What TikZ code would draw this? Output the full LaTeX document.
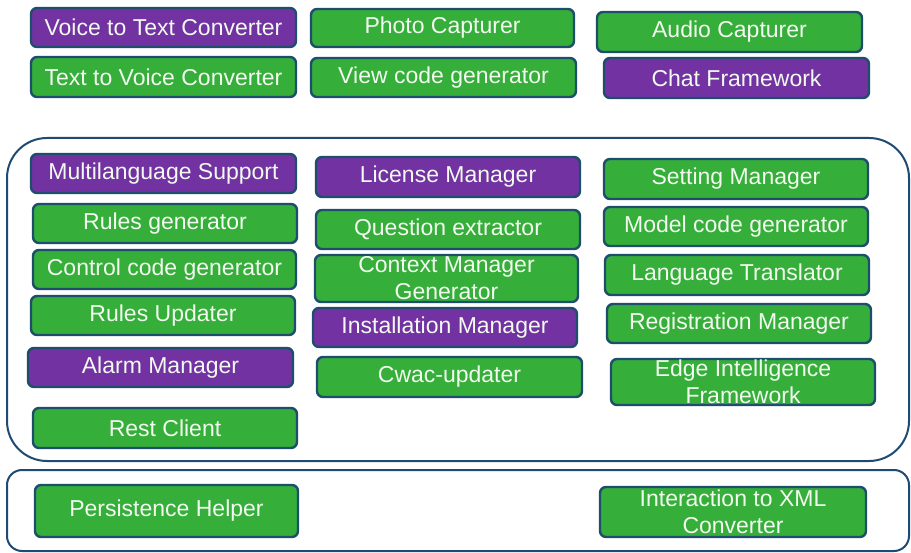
\documentclass[tikz,border=0pt]{standalone}
\usepackage{fontspec}
\setmainfont{Liberation Sans}
\definecolor{boxgreen}{HTML}{36AE3A}
\definecolor{boxpurple}{HTML}{7232A2}
\definecolor{boxedge}{HTML}{1D4E6B}
\definecolor{frameedge}{HTML}{1F4B73}
\definecolor{labeltext}{HTML}{F2FAF0}
\tikzset{
  comp/.style={draw=boxedge, line width=2.4pt, rounded corners=6pt,
    inner sep=0pt, align=center, text=labeltext,
    font=\fontsize{23}{27}\selectfont},
  gcomp/.style={comp, fill=boxgreen},
  pcomp/.style={comp, fill=boxpurple},
  layer/.style={draw=frameedge, line width=2pt}
}
% \compbox{name}{x1}{y1}{x2}{y2}{style}{text}
\newcommand{\compbox}[7]{%
  \node[#6, minimum width={(#4)-(#2)}, minimum height={(#5)-(#3)}]
    (#1) at ({((#2)+(#4))/2},{((#3)+(#5))/2}) {#7};}
\begin{document}
\begin{tikzpicture}[x=1pt,y=-1pt]
\useasboundingbox (0,0) rectangle (911,553);
\fill[white] (0,0) rectangle (911,553);

% layer frames
\draw[layer, rounded corners=40pt] (7,138) rectangle (909,461);
\draw[layer, rounded corners=15pt] (7,470) rectangle (909,551);

% top group
\compbox{vtt}{31}{8}{296}{47}{pcomp}{Voice to Text Converter}
\compbox{ttv}{31}{57}{296}{97}{gcomp}{Text to Voice Converter}
\compbox{photo}{311}{9}{574}{47}{gcomp}{Photo Capturer}
\compbox{viewgen}{311}{58}{576}{97}{gcomp}{View code generator}
\compbox{audio}{597}{12}{862}{52}{gcomp}{Audio Capturer}
\compbox{chat}{604}{58}{869}{98}{pcomp}{Chat Framework}

% middle layer, left column
\compbox{multi}{31}{154}{296}{193}{pcomp}{Multilanguage Support}
\compbox{rulesgen}{33}{204}{297}{243}{gcomp}{Rules generator}
\compbox{control}{33}{250}{296}{289}{gcomp}{Control code generator}
\compbox{rulesupd}{31}{296}{295}{335}{gcomp}{Rules Updater}
\compbox{alarm}{28}{348}{293}{387}{pcomp}{Alarm Manager}
\compbox{rest}{33}{408}{297}{448}{gcomp}{Rest Client}

% middle layer, centre column
\compbox{license}{316}{157}{580}{197}{pcomp}{License Manager}
\compbox{question}{316}{210}{580}{249}{gcomp}{Question extractor}
\compbox{context}{315}{255}{578}{302}{gcomp}{Context Manager\\Generator}
\compbox{install}{313}{308}{577}{347}{pcomp}{Installation Manager}
\compbox{cwac}{317}{357}{582}{397}{gcomp}{Cwac-updater}

% middle layer, right column
\compbox{setting}{604}{159}{868}{199}{gcomp}{Setting Manager}
\compbox{model}{604}{207}{868}{246}{gcomp}{Model code generator}
\compbox{lang}{605}{255}{869}{295}{gcomp}{Language Translator}
\compbox{reg}{607}{304}{871}{343}{gcomp}{Registration Manager}
\compbox{edge}{611}{359}{875}{405}{gcomp}{Edge Intelligence\\Framework}

% bottom layer
\compbox{persist}{35}{485}{298}{537}{gcomp}{Persistence Helper}
\compbox{xmlconv}{600}{487}{866}{537}{gcomp}{Interaction to XML\\Converter}
\end{tikzpicture}
\end{document}
